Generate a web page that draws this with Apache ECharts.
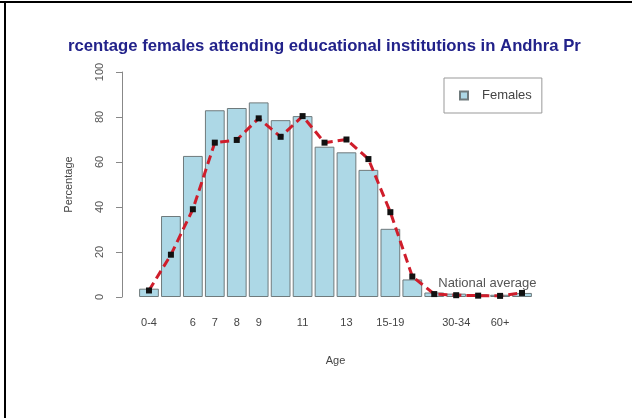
<!DOCTYPE html>
<html>
<head>
<meta charset="utf-8">
<script src="https://cdn.jsdelivr.net/npm/echarts@6/dist/echarts.min.js"></script>
<style>
html,body{margin:0;padding:0;background:#fff;}
#chart{width:632px;height:418px;}
</style>
</head>
<body>
<div id="chart"></div>
<script>
// Data
var titleText = 'rcentage females attending educational institutions in Andhra Pr';
var categories = ['0-4','5','6','7','8','9','10','11','12','13','14','15-19','20-24','25-29','30-34','35-59','60+','Age not stated'];
var shownLabels = ['0-4','6','7','8','9','11','13','15-19','30-34','60+'];
var females = [3.7, 36, 62.7, 83, 84, 86.5, 78.6, 80.4, 66.8, 64.3, 56.5, 30.3, 7.8, 2.0, 1.5, 1.2, 1.0, 1.8];
var nationalAverage = [2.9, 18.8, 39, 68.6, 69.8, 79.4, 71.2, 80.4, 68.6, 70, 61.3, 37.7, 9.1, 1.3, 0.8, 0.6, 0.5, 1.8];
var yTicks = {min: 0, max: 100, interval: 20};
var labelPointIndex = 13;

var font = 'Liberation Sans, Arial, sans-serif';
var chart = echarts.init(document.getElementById('chart'), null, {renderer: 'canvas'});

var lineData = nationalAverage.map(function (v, i) {
  if (i === labelPointIndex) {
    return {
      value: v,
      label: {
        show: true, formatter: 'National average', position: 'right',
        distance: 1, offset: [0, -11], color: '#555', fontSize: 13, fontFamily: font
      }
    };
  }
  return v;
});

chart.setOption({
  animation: false,
  backgroundColor: '#ffffff',
  title: {
    text: titleText,
    left: 63, top: 33,
    textStyle: {fontFamily: font, fontWeight: 'bold', fontSize: 16.7, color: '#22228a'}
  },
  legend: {
    data: [{name: 'Females', icon: 'rect'}],
    left: 444, top: 78,
    orient: 'vertical',
    padding: [11, 10, 11, 15],
    itemWidth: 8, itemHeight: 8, itemGap: 0,
    borderColor: '#999', borderWidth: 1, borderRadius: 0,
    textStyle: {fontFamily: font, fontSize: 13, color: '#444', padding: [0, 0, 0, 9]}
  },
  grid: {left: 138, right: 99, top: 72, bottom: 121, containLabel: false},
  xAxis: {
    type: 'category',
    data: categories,
    name: 'Age', nameLocation: 'middle', nameGap: 58,
    nameTextStyle: {fontFamily: font, fontSize: 11, color: '#444'},
    axisLine: {show: false},
    axisTick: {show: false},
    axisLabel: {
      interval: function (i, v) { return shownLabels.indexOf(v) >= 0; },
      margin: 20, fontFamily: font, fontSize: 11, color: '#444'
    }
  },
  yAxis: {
    type: 'value',
    min: yTicks.min, max: yTicks.max, interval: yTicks.interval,
    offset: 16,
    name: 'Percentage', nameLocation: 'middle', nameGap: 48,
    nameTextStyle: {fontFamily: font, fontSize: 11, color: '#444'},
    axisLine: {show: true, lineStyle: {color: '#888', width: 1}},
    axisTick: {show: true, length: 6, lineStyle: {color: '#888'}},
    splitLine: {show: false},
    axisLabel: {rotate: 90, margin: 17, fontFamily: font, fontSize: 11, color: '#555'}
  },
  series: [
    {
      name: 'Females', type: 'bar', data: females,
      barCategoryGap: '10%',
      itemStyle: {color: '#ADD8E6', borderColor: '#6f7a7c', borderWidth: 1}
    },
    {
      name: 'National average', type: 'line', data: lineData,
      symbol: 'rect', symbolSize: 6,
      itemStyle: {color: '#111'},
      lineStyle: {color: '#cf1d2b', width: 3, type: [9, 5]},
      z: 5
    }
  ],
  graphic: [
    {type: 'rect', shape: {x: 0, y: 1, width: 632, height: 2}, style: {fill: '#000'}, z: 100},
    {type: 'rect', shape: {x: 4, y: 1, width: 2, height: 417}, style: {fill: '#000'}, z: 100}
  ]
});
</script>
</body>
</html>
